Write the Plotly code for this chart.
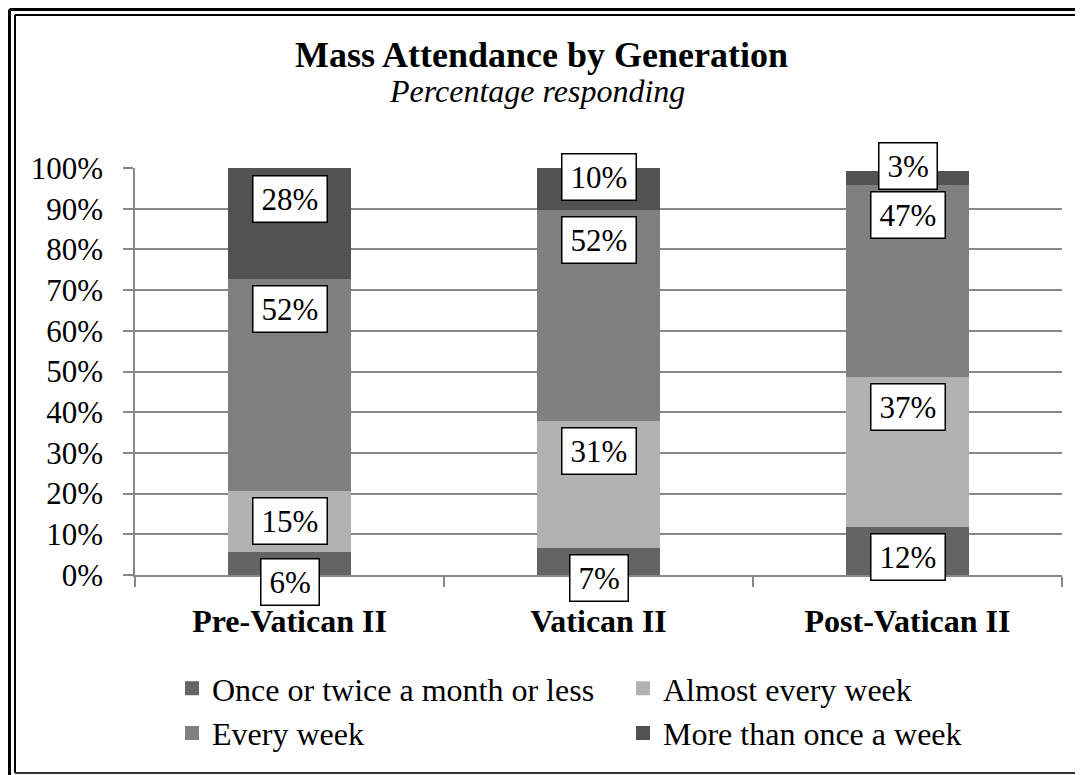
import plotly.graph_objects as go

categories = ["Pre-Vatican II", "Vatican II", "Post-Vatican II"]
series_names = ["Once or twice a month or less", "Almost every week", "Every week", "More than once a week"]
once_twice = [6, 7, 12]
almost_every = [15, 31, 37]
every_week = [52, 52, 47]
more_than_once = [28, 10, 3]
series_values = [once_twice, almost_every, every_week, more_than_once]
colors = ["#646464", "#b2b2b2", "#808080", "#525252"]
# pixel nudges for label boxes (style only), per series per category
label_nudge = [[0, 0, 0], [0, 0, 0], [0, 0, 0], [0, 22, 37]]

FONT = "Times New Roman, Liberation Serif, serif"

# The page body has an 8px margin, so the figure is drawn 8px smaller and
# all page positions below are expressed in page pixels.
OFF = 8
W, H = 1083 - OFF, 775 - OFF
PL, PR, PT, PB = 135, 1062, 168, 575  # plot area in page pixels

fig = go.Figure()
for name, vals, col in zip(series_names, series_values, colors):
    fig.add_trace(go.Bar(
        x=categories, y=vals, name=name,
        marker=dict(color=col, line=dict(color=col, width=2)),
        width=0.392,
    ))


def px2x(px):
    return (px - PL) / float(PR - PL)


def py2y(py):
    return (PB - py) / float(PB - PT)


LBL = 31
annotations = []
cum = [0, 0, 0]
for si, vals in enumerate(series_values):
    for ci, v in enumerate(vals):
        cum[ci] += v
        top = min(cum[ci], 100)
        txt = f"{v}%"
        ndig = len(str(v))
        tw = LBL * (0.5 * ndig + 0.833) + 6
        annotations.append(dict(
            x=categories[ci], y=top, xref="x", yref="y",
            text=txt, showarrow=False, yanchor="top",
            yshift=-7 + label_nudge[si][ci],
            font=dict(family=FONT, size=LBL, color="black"),
            bgcolor="white", bordercolor="black", borderwidth=1.5,
            borderpad=5, width=tw, align="center",
        ))

# Title and subtitle
annotations.append(dict(
    x=px2x(541), y=py2y(55), xref="paper", yref="paper", yanchor="middle",
    text="<b>Mass Attendance by Generation</b>", showarrow=False,
    font=dict(family=FONT, size=36, color="black"),
))
annotations.append(dict(
    x=px2x(537), y=py2y(91), xref="paper", yref="paper", yanchor="middle",
    text="<i>Percentage responding</i>", showarrow=False,
    font=dict(family=FONT, size=32, color="black"),
))

shapes = [
    dict(type="line", xref="paper", yref="paper", x0=px2x(9.5), x1=px2x(9.5), y0=py2y(9.5), y1=py2y(790),
         line=dict(color="black", width=3)),
    dict(type="line", xref="paper", yref="paper", x0=px2x(9.5), x1=px2x(1083), y0=py2y(9.5), y1=py2y(9.5),
         line=dict(color="black", width=3)),
    dict(type="line", xref="paper", yref="paper", x0=px2x(15), x1=px2x(15), y0=py2y(15), y1=py2y(773),
         line=dict(color="black", width=2)),
    dict(type="line", xref="paper", yref="paper", x0=px2x(15), x1=px2x(1083), y0=py2y(15), y1=py2y(15),
         line=dict(color="black", width=2)),
    dict(type="line", xref="paper", yref="paper", x0=px2x(15), x1=px2x(1083), y0=py2y(773), y1=py2y(773),
         line=dict(color="#333333", width=2)),
]

fig.update_layout(
    barmode="stack",
    width=W, height=H,
    margin=dict(l=PL - OFF, r=W - (PR - OFF), t=PT - OFF, b=H - (PB - OFF), autoexpand=False),
    paper_bgcolor="white", plot_bgcolor="white",
    font=dict(family=FONT, size=30, color="black"),
    showlegend=True,
    legend=dict(
        orientation="h", traceorder="normal",
        x=px2x(172), y=py2y(661), xanchor="left", yanchor="top",
        entrywidth=406, entrywidthmode="pixels",
        font=dict(family=FONT, size=32, color="black"),
        bgcolor="rgba(0,0,0,0)", itemclick=False, itemdoubleclick=False,
    ),
    annotations=annotations,
    shapes=shapes,
    bargap=0.6,
)
fig.update_xaxes(
    showline=True, linecolor="#888888", linewidth=1.5,
    ticks="outside", tickson="boundaries", ticklen=10, tickcolor="#888888", tickwidth=1.5,
    tickfont=dict(family=FONT, size=32, color="black", weight="bold"),
    ticklabelstandoff=17,
    showgrid=False, fixedrange=True,
)
fig.update_yaxes(
    range=[0, 100], dtick=10, ticksuffix="%",
    showline=True, linecolor="#888888", linewidth=1.5,
    ticks="outside", ticklen=10, tickcolor="#888888", tickwidth=1.5,
    showgrid=True, gridcolor="#888888", gridwidth=1.5,
    tickfont=dict(family=FONT, size=31, color="black"),
    ticklabelstandoff=14,
    zeroline=False, fixedrange=True,
)

fig.write_html("out.html", config={"displayModeBar": False})
